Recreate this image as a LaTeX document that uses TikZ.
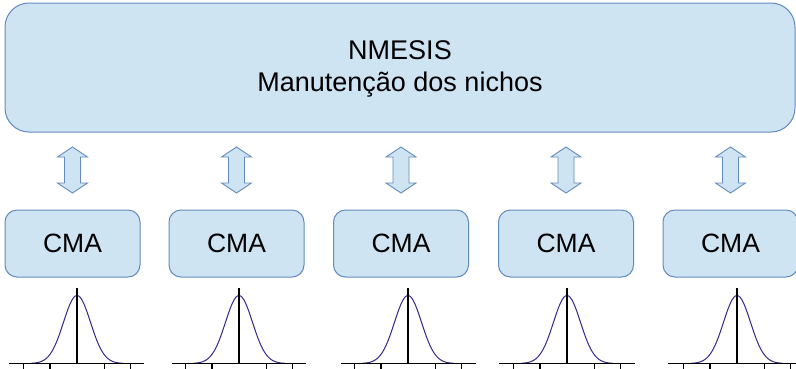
\documentclass[tikz,border=0pt]{standalone}
\usepackage{fontspec}
\setmainfont{Liberation Sans}
\definecolor{boxfill}{RGB}{207,228,243}
\definecolor{boxline}{RGB}{98,138,190}
\definecolor{curve}{RGB}{52,40,140}
\begin{document}
\begin{tikzpicture}[x=1pt,y=-1pt,
  mainbox/.style={draw=boxline,fill=boxfill,line width=1pt,rounded corners=24pt},
  maintext/.style={align=center,font=\fontsize{27}{32}\selectfont,inner sep=0pt},
  cmabox/.style={draw=boxline,fill=boxfill,line width=1pt,rounded corners=12pt,minimum width=135pt,minimum height=67pt,inner sep=0pt,font=\fontsize{26.5}{30}\selectfont},
  dblarrow/.style={draw=boxline,fill=boxfill,line width=0.9pt,line join=miter},
  axisline/.style={line width=1.3pt,black},
  gauss/.style={curve,line width=1pt}]
\useasboundingbox (0,0) rectangle (796,368);
\path[mainbox] (5,3) rectangle (795,132);
\node[maintext] (top) at (400,69) {NMESIS\\Manutenção dos nichos};
\foreach \i/\bx/\gc/\ga/\gb in {1/72.5/77/9/144, 2/236.5/239/172/306, 3/401/408/341/476, 4/566/567/499/635, 5/730.5/737/668/796}{
  \node[cmabox] (cma\i) at (\bx,243.5) {CMA};
  % double arrow between top and CMA box
  \coordinate (at\i) at (\bx,147);
  \draw[dblarrow] (at\i) -- ++(15,10) -- ++(-7,0) -- ++(0,26) -- ++(7,0) -- ++(-15,10) -- ++(-15,-10) -- ++(7,0) -- ++(0,-26) -- ++(-7,0) -- cycle;
  % gaussian
  \coordinate (gz\i) at (\gc,363.5);
  \draw[gauss,domain=-46:46,samples=80,smooth] plot ({\gc+\x},{363.5-68*exp(-(\x*\x)/(2*13.5*13.5))});
  \draw[axisline] (\ga,363.5) -- (\gb,363.5);
  \draw[axisline] (gz\i) -- ++(0,-76);
  \foreach \t/\w in {-54/0.7,-27/1.1,27/0.8,53/0.7}{\draw[line width=\w pt] (\gc+\t,363.5) -- ++(0,5);}
}
\end{tikzpicture}
\end{document}
